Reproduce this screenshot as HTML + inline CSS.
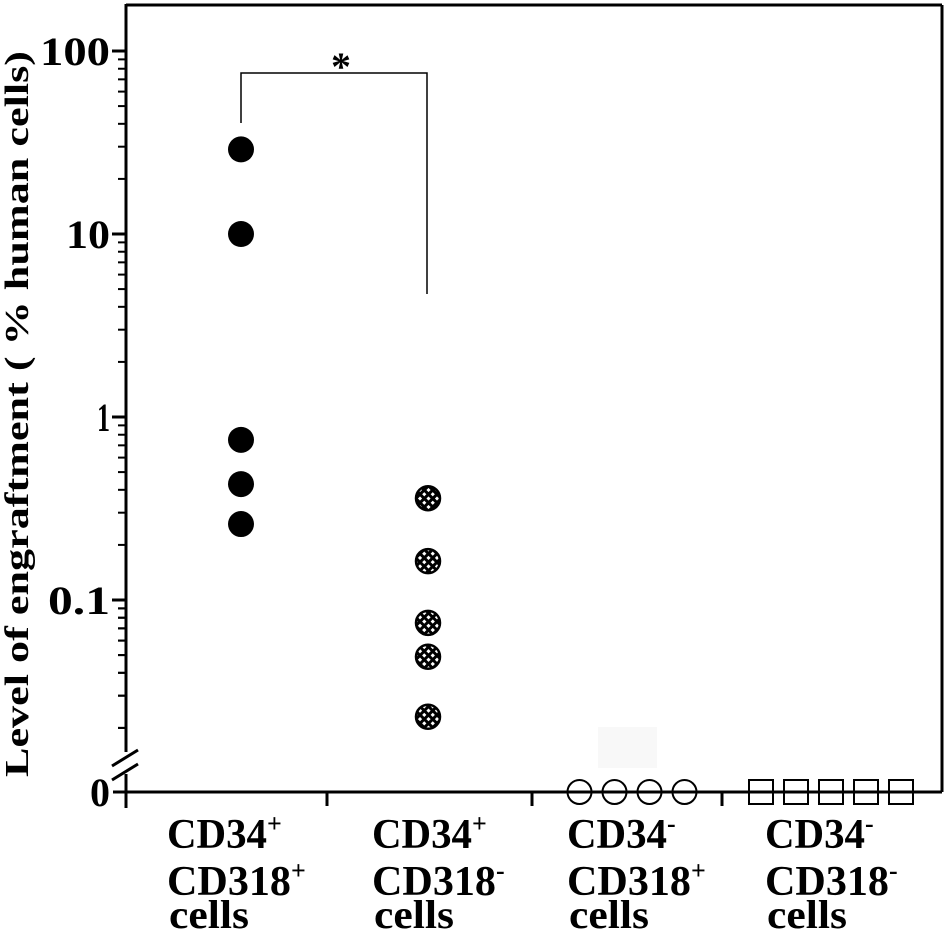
<!DOCTYPE html>
<html><head><meta charset="utf-8"><style>
body{margin:0;background:#fff}
svg{display:block}
text{font-family:"Liberation Serif",serif;font-weight:bold;fill:#000}
</style></head><body>
<svg id="chart" width="945" height="941" viewBox="0 0 945 941">
<defs>
<pattern id="hatch" width="6" height="6" patternUnits="userSpaceOnUse" patternTransform="rotate(45)">
<rect width="6" height="6" fill="#000"/><rect width="3" height="3" fill="#fff"/>
</pattern>
</defs>
<g id="axes"></g>
<g id="marks"></g>
</svg>
<script>
const categories = ["CD34+ CD318+ cells","CD34+ CD318- cells","CD34- CD318+ cells","CD34- CD318- cells"];
const group1 = [29, 10, 0.75, 0.43, 0.26];
const group2 = [0.36, 0.163, 0.075, 0.049, 0.023];
const group3Zero = [0, 0, 0, 0];
const group4Zero = [0, 0, 0, 0, 0];
const yTicks = [100, 10, 1, 0.1];
const yTickLabels = ["100","10","1","0.1"];

const NS="http://www.w3.org/2000/svg";
const axes=document.getElementById('axes'), marks=document.getElementById('marks');
function el(tag,attrs,parent,txt){const e=document.createElementNS(NS,tag);for(const k in attrs)e.setAttribute(k,attrs[k]);if(txt!=null)e.textContent=txt;parent.appendChild(e);return e;}
const yLog=v=>417-183*Math.log10(v);
const yZero=792;
const catX=[241,428,632,831];
const spread=35;
function xAt(ci,i,n){return catX[ci]+(i-(n-1)/2)*spread;}

let a=el('line',{x1:126,y1:5,x2:942,y2:5,stroke:'#000','stroke-width':3},axes);

a=el('line',{x1:942,y1:5,x2:942,y2:792,stroke:'#000','stroke-width':3},axes);

a=el('line',{x1:126,y1:4,x2:126,y2:808,stroke:'#000','stroke-width':3},axes);

a=el('line',{x1:113,y1:792,x2:942,y2:792,stroke:'#000','stroke-width':3},axes);

[327,532,722].forEach(x=>{const t=el('line',{x1:x,y1:792,x2:x,y2:806,stroke:'#000','stroke-width':3},axes);
});
a=el('rect',{x:110,y:752,width:26,height:22,fill:'#fff'},axes);

[[112,766,138,750],[112,780,138,764]].forEach(p=>{const b=el('line',{x1:p[0],y1:p[1],x2:p[2],y2:p[3],stroke:'#000','stroke-width':3},axes);
});
a=el('rect',{x:598,y:727,width:59,height:41,fill:'#f8f8f8'},axes);

const tickLabelW=[70,44,13,62];
yTicks.forEach((v,i)=>{const y=yLog(v);
 const t=el('line',{x1:112,y1:y,x2:126,y2:y,stroke:'#000','stroke-width':3},axes);
 
 const l=el('text',{x:110,y:y+14,'text-anchor':'end','font-size':40,textLength:tickLabelW[i],lengthAdjust:'spacingAndGlyphs'},axes,yTickLabels[i]);
 
 for(let m=2;m<=9;m++){const my=yLog(v/10*m);
  const mt=el('line',{x1:118,y1:my,x2:126,y2:my,stroke:'#000','stroke-width':2},axes);
  }
});
[0.02,0.03,0.04,0.05,0.06,0.07,0.08,0.09].forEach(v=>{const my=yLog(v);
 const mt=el('line',{x1:118,y1:my,x2:126,y2:my,stroke:'#000','stroke-width':2},axes);
 });
a=el('text',{x:110,y:806,'text-anchor':'end','font-size':40,textLength:20,lengthAdjust:'spacingAndGlyphs'},axes,'0');

a=el('text',{x:0,y:0,'text-anchor':'middle','font-size':34,textLength:726,lengthAdjust:'spacingAndGlyphs',transform:'translate(28,414) rotate(-90)'},axes,'Level of engraftment ( % human cells)');

const lab=[["CD34","+","CD318","+"],["CD34","+","CD318","-"],["CD34","-","CD318","+"],["CD34","-","CD318","-"]];
const labX=[167,372,567,765];
lab.forEach((L,i)=>{
 const g=el('g',{},axes);
 const t1=el('text',{x:labX[i],y:848,'font-size':42},g);
 el('tspan',{textLength:100,lengthAdjust:'spacingAndGlyphs'},t1,L[0]);el('tspan',{'font-size':26,dy:-16},t1,L[1]);
 const t2=el('text',{x:labX[i],y:895,'font-size':42},g);
 el('tspan',{textLength:124,lengthAdjust:'spacingAndGlyphs'},t2,L[2]);el('tspan',{'font-size':26,dy:-16},t2,L[3]);
 el('text',{x:labX[i]+2,y:928,'font-size':40,textLength:80,lengthAdjust:'spacingAndGlyphs'},g,'cells');
});
a=el('polyline',{points:`241,123 241,73 427,73 427,294`,fill:'none',stroke:'#000','stroke-width':1.5},axes);

a=el('text',{x:341,y:80,'text-anchor':'middle','font-size':40},axes,'*');

group1.forEach((v,i)=>{const c=el('circle',{cx:catX[0],cy:yLog(v),r:13,fill:'#000'},marks);
 });
group2.forEach((v,i)=>{const c=el('circle',{cx:catX[1],cy:yLog(v),r:12,fill:'url(#hatch)',stroke:'#000','stroke-width':2.5},marks);
 });
group3Zero.forEach((v,i,arr)=>{const c=el('circle',{cx:xAt(2,i,arr.length),cy:yZero-v,r:12,fill:'none',stroke:'#000','stroke-width':2},marks);
 });
group4Zero.forEach((v,i,arr)=>{const x=xAt(3,i,arr.length);const c=el('rect',{x:x-12,y:yZero-v-12,width:24,height:24,fill:'none',stroke:'#000','stroke-width':2},marks);
 });
</script>
</body></html>
